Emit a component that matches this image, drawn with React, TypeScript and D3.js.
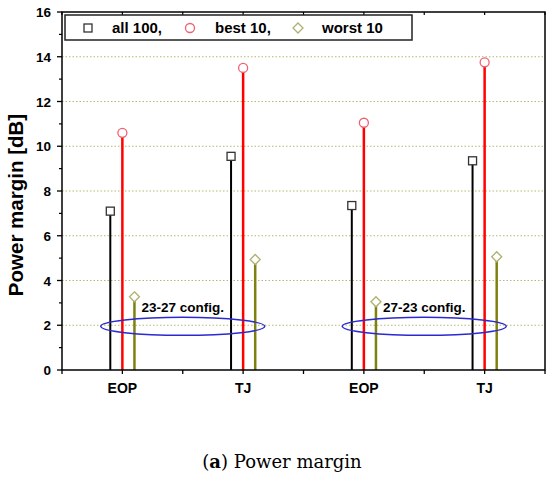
import * as d3 from 'd3';

const categories = ['EOP', 'TJ', 'EOP', 'TJ'];
const all100 = [7.1, 9.55, 7.35, 9.35];
const best10 = [10.6, 13.5, 11.05, 13.75];
const worst10 = [3.27, 4.94, 3.05, 5.06];
const yTicks = [0, 2, 4, 6, 8, 10, 12, 14, 16];
const yMinor = [1, 3, 5, 7, 9, 11, 13, 15];
const xTicks = [0, 1, 2, 3, 4, 5, 6, 7, 8];
const configs = [
  { label: '23-27 config.', at: 1 },
  { label: '27-23 config.', at: 5 },
];

const dims = { width: 550, height: 480, left: 62, right: 545, top: 12, bottom: 370 };
const font = 'Arial, "Liberation Sans", sans-serif';

export default function App() {
  const x = d3.scaleLinear().domain([0, 8]).range([dims.left, dims.right]);
  const y = d3.scaleLinear().domain([0, 16]).range([dims.bottom, dims.top]);
  const off = 0.2;

  const series = [
    { name: 'all100', values: all100, dx: -off, color: '#000000', width: 2 },
    { name: 'best10', values: best10, dx: 0, color: '#ff0000', width: 2.5 },
    { name: 'worst10', values: worst10, dx: off, color: '#808010', width: 2.5 },
  ];

  const marker = (name: string, cx: number, cy: number) => {
    if (name === 'all100')
      return <rect x={cx - 4} y={cy - 4} width={8} height={8} fill="white" stroke="#333" strokeWidth={1.3} />;
    if (name === 'best10')
      return <circle cx={cx} cy={cy} r={4.5} fill="white" stroke="#f06070" strokeWidth={1.3} />;
    return (
      <path
        d={`M${cx},${cy - 5}L${cx + 5},${cy}L${cx},${cy + 5}L${cx - 5},${cy}Z`}
        fill="white"
        stroke="#b0b070"
        strokeWidth={1.3}
      />
    );
  };

  return (
    <svg width={dims.width} height={dims.height} style={{ position: 'absolute', left: 0, top: 0 }}>
      <rect width={dims.width} height={dims.height} fill="white" />

      {/* grid */}
      {yTicks.slice(1, -1).map((t) => (
        <line key={'g' + t} x1={dims.left} x2={dims.right} y1={y(t)} y2={y(t)}
          stroke="#b8b870" strokeWidth={1.2} strokeDasharray="1.5,2" />
      ))}

      {/* stems */}
      {series.map((s) =>
        s.values.map((v, i) => {
          const cx = x(2 * i + 1 + s.dx);
          return (
            <g key={s.name + i}>
              <line x1={cx} x2={cx} y1={y(0)} y2={y(v)} stroke={s.color} strokeWidth={s.width} />
              {marker(s.name, cx, y(v))}
            </g>
          );
        })
      )}

      {/* ellipses */}
      {configs.map((c) => (
        <g key={c.label}>
          <ellipse cx={x(c.at + 1)} cy={y(1.95)} rx={82} ry={9} fill="none" stroke="#2a2ad0" strokeWidth={1.5} />
          <text x={x(c.at) + 19} y={y(2.6)} fontFamily={font} fontWeight="bold" fontSize={13.5}>
            {c.label}
          </text>
        </g>
      ))}

      {/* frame */}
      <rect x={dims.left} y={dims.top} width={dims.right - dims.left} height={dims.bottom - dims.top}
        fill="none" stroke="#000" strokeWidth={1.5} />

      {/* y axis */}
      {yTicks.map((t) => (
        <g key={'y' + t}>
          <line x1={dims.left - 5} x2={dims.left} y1={y(t)} y2={y(t)} stroke="#000" strokeWidth={1.3} />
          <text x={dims.left - 11} y={y(t) + 5} textAnchor="end" fontFamily={font} fontWeight="bold" fontSize={13.5}>
            {t}
          </text>
        </g>
      ))}
      {yMinor.map((t) => (
        <line key={'ym' + t} x1={dims.left - 3} x2={dims.left} y1={y(t)} y2={y(t)} stroke="#000" strokeWidth={1.2} />
      ))}

      {/* x axis */}
      {xTicks.map((t) => (
        <g key={'x' + t}>
          <line x1={x(t)} x2={x(t)} y1={dims.bottom} y2={dims.bottom + 4} stroke="#000" strokeWidth={1.3} />
          <line x1={x(t)} x2={x(t)} y1={dims.top} y2={dims.top + 3} stroke="#000" strokeWidth={1.2} />
        </g>
      ))}
      {categories.map((c, i) => (
        <text key={'c' + i} x={x(2 * i + 1)} y={393} textAnchor="middle" fontFamily={font} fontWeight="bold" fontSize={14}>
          {c}
        </text>
      ))}

      {/* y label */}
      <text transform="translate(23,205) rotate(-90)" textAnchor="middle"
        fontFamily={font} fontWeight="bold" fontSize={20.5}>
        Power margin [dB]
      </text>

      {/* legend */}
      <rect x={65} y={15} width={347} height={25} fill="white" stroke="#222" strokeWidth={1.5} />
      {marker('all100', 88, 28)}
      <text x={112} y={33} fontFamily={font} fontWeight="bold" fontSize={15}>all 100,</text>
      {marker('best10', 190, 28)}
      <text x={215} y={33} fontFamily={font} fontWeight="bold" fontSize={15}>best 10,</text>
      {marker('worst10', 298, 28)}
      <text x={322} y={33} fontFamily={font} fontWeight="bold" fontSize={15}>worst 10</text>

      {/* caption */}
      <text x={282} y={468} textAnchor="middle" fontFamily='"DejaVu Serif", "Liberation Serif", serif' fontSize={18}>
        (<tspan fontWeight="bold">a</tspan>) Power margin
      </text>
    </svg>
  );
}
